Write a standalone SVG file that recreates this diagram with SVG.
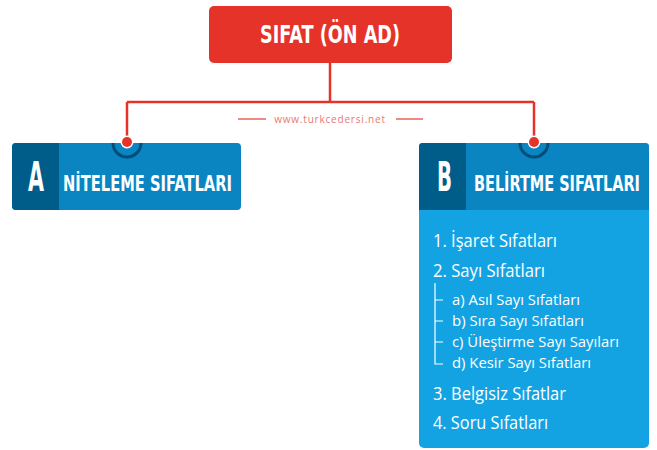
<svg xmlns="http://www.w3.org/2000/svg" width="657" height="450" viewBox="0 0 657 450">
<style>
.hd{font-family:"DejaVu Sans","Liberation Sans",sans-serif;font-weight:bold;fill:#fff}
.it{font-family:"Open Sans","DejaVu Sans",sans-serif;fill:#fff;font-size:17.5px}
.sub{font-family:"Open Sans","DejaVu Sans",sans-serif;fill:#fff;font-size:14.5px}
.con{stroke:#e63329;stroke-width:2.5;fill:none}
.tree{stroke:#fff;stroke-width:1.2;fill:none}
</style>
<rect width="657" height="450" fill="#fff"/>
<g id="connectors">
<path class="con" d="M330 63V102M127 102H534M127 102V142M534 102V142"/>
<path d="M238 119H266M396 119H423" stroke="#ee8a84" stroke-width="2"/>
<text x="330" y="123" text-anchor="middle" font-family="Open Sans,sans-serif" font-size="10" letter-spacing="0.8" fill="#e87872">www.turkcedersi.net</text>
</g>
<g id="root">
<rect x="209" y="6" width="243" height="57" rx="5" fill="#e63329"/>
<text class="hd" x="260" y="43" font-size="25" textLength="140" lengthAdjust="spacingAndGlyphs">SIFAT (ÖN AD)</text>
</g>
<g id="nodeA">
<rect x="12" y="143" width="229" height="67" rx="4" fill="#0a85c2"/>
<path d="M16 143H59V210H16A4 4 0 0 1 12 206V147A4 4 0 0 1 16 143Z" fill="#005d8a"/>
<path d="M113 143A14 14 0 0 0 141 143" fill="none" stroke="#004f78" stroke-width="3"/>
<text class="hd" x="28" y="191" font-size="40" textLength="16" lengthAdjust="spacingAndGlyphs">A</text>
<text class="hd" x="63" y="191" font-size="21" textLength="169" lengthAdjust="spacingAndGlyphs">NİTELEME SIFATLARI</text>
<circle cx="127" cy="142" r="6.5" fill="#fff"/>
<circle cx="127" cy="142" r="5" fill="#e63329"/>
</g>
<g id="nodeB">
<path d="M423 143H645A4 4 0 0 1 649 147V443A5 5 0 0 1 644 448H424A5 5 0 0 1 419 443V147A4 4 0 0 1 423 143Z" fill="#14a3e2"/>
<path d="M423 143H645A4 4 0 0 1 649 147V210H419V147A4 4 0 0 1 423 143Z" fill="#0a85c2"/>
<path d="M423 143H466V210H419V147A4 4 0 0 1 423 143Z" fill="#005d8a"/>
<path d="M520 143A14 14 0 0 0 548 143" fill="none" stroke="#004f78" stroke-width="3"/>
<text class="hd" x="437" y="191" font-size="40" textLength="15" lengthAdjust="spacingAndGlyphs">B</text>
<text class="hd" x="474" y="191" font-size="21" textLength="166" lengthAdjust="spacingAndGlyphs">BELİRTME SIFATLARI</text>
<circle cx="534" cy="142" r="6.5" fill="#fff"/>
<circle cx="534" cy="142" r="5" fill="#e63329"/>
<text class="it" x="433" y="247" textLength="124" lengthAdjust="spacingAndGlyphs">1. İşaret Sıfatları</text>
<text class="it" x="433" y="277" textLength="112" lengthAdjust="spacingAndGlyphs">2. Sayı Sıfatları</text>
<path class="tree" d="M435 283V364H443M435 300H443M435 321H443M435 342H443"/>
<text class="sub" x="452" y="305" textLength="128" lengthAdjust="spacingAndGlyphs">a) Asıl Sayı Sıfatları</text>
<text class="sub" x="452" y="326" textLength="132" lengthAdjust="spacingAndGlyphs">b) Sıra Sayı Sıfatları</text>
<text class="sub" x="452" y="347" textLength="167" lengthAdjust="spacingAndGlyphs">c) Üleştirme Sayı Sayıları</text>
<text class="sub" x="452" y="368" textLength="139" lengthAdjust="spacingAndGlyphs">d) Kesir Sayı Sıfatları</text>
<text class="it" x="433" y="400" textLength="133" lengthAdjust="spacingAndGlyphs">3. Belgisiz Sıfatlar</text>
<text class="it" x="433" y="429" textLength="115" lengthAdjust="spacingAndGlyphs">4. Soru Sıfatları</text>
</g>
</svg>
